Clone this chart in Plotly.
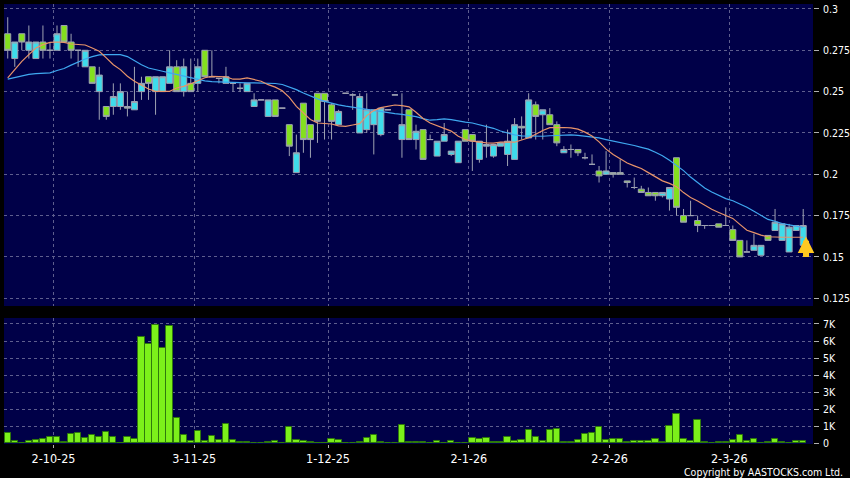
import plotly.graph_objects as go

# ---------------- data ----------------
opens = [0.285, 0.270, 0.285, 0.275, 0.270, 0.280, 0.275, 0.275, 0.290, 0.280,
         0.275, 0.265, 0.265, 0.250, 0.241, 0.241, 0.241, 0.241, 0.239, 0.250,
         0.259, 0.250, 0.250, 0.255, 0.265, 0.250, 0.255, 0.255, 0.275, 0.259,
         0.258, 0.255, 0.255, 0.252, 0.250, 0.241, 0.245, 0.235, 0.245, 0.240,
         0.230, 0.201, 0.243, 0.230, 0.249, 0.249, 0.242, 0.230, 0.249, 0.248,
         0.225, 0.227, 0.230, 0.224, 0.239, 0.248, 0.221, 0.239, 0.221, 0.227,
         0.221, 0.211, 0.220, 0.212, 0.207, 0.227, 0.224, 0.209, 0.217, 0.211,
         0.217, 0.212, 0.209, 0.229, 0.222, 0.242, 0.236, 0.236, 0.230, 0.213,
         0.215, 0.215, 0.210, 0.206, 0.202, 0.200, 0.201, 0.201, 0.196, 0.192,
         0.191, 0.189, 0.189, 0.187, 0.185, 0.210, 0.175, 0.175, 0.172, 0.169,
         0.169, 0.170, 0.169, 0.1665, 0.160, 0.153, 0.154, 0.151, 0.163, 0.166,
         0.160, 0.153, 0.166, 0.157]
highs = [0.295, 0.280, 0.285, 0.290, 0.280, 0.290, 0.280, 0.290, 0.290, 0.285,
         0.275, 0.275, 0.265, 0.265, 0.241, 0.255, 0.255, 0.250, 0.265, 0.259,
         0.259, 0.259, 0.259, 0.275, 0.269, 0.270, 0.270, 0.270, 0.275, 0.275,
         0.258, 0.265, 0.255, 0.255, 0.255, 0.249, 0.245, 0.245, 0.245, 0.240,
         0.230, 0.224, 0.243, 0.230, 0.249, 0.249, 0.243, 0.239, 0.249, 0.249,
         0.249, 0.249, 0.239, 0.240, 0.239, 0.248, 0.249, 0.239, 0.230, 0.227,
         0.224, 0.220, 0.231, 0.214, 0.220, 0.227, 0.224, 0.220, 0.230, 0.218,
         0.219, 0.227, 0.234, 0.235, 0.249, 0.244, 0.239, 0.240, 0.232, 0.217,
         0.218, 0.215, 0.213, 0.212, 0.205, 0.214, 0.201, 0.209, 0.196, 0.198,
         0.193, 0.192, 0.189, 0.189, 0.192, 0.210, 0.179, 0.184, 0.175, 0.169,
         0.169, 0.170, 0.180, 0.169, 0.160, 0.160, 0.164, 0.157, 0.163, 0.179,
         0.170, 0.170, 0.169, 0.179]
lows = [0.270, 0.265, 0.275, 0.270, 0.270, 0.270, 0.270, 0.275, 0.280, 0.270,
        0.265, 0.265, 0.255, 0.233, 0.233, 0.236, 0.239, 0.235, 0.239, 0.245,
        0.245, 0.236, 0.250, 0.255, 0.250, 0.247, 0.250, 0.250, 0.259, 0.259,
        0.255, 0.255, 0.250, 0.250, 0.250, 0.241, 0.245, 0.235, 0.235, 0.240,
        0.211, 0.201, 0.213, 0.210, 0.219, 0.221, 0.221, 0.230, 0.249, 0.239,
        0.225, 0.225, 0.212, 0.223, 0.239, 0.248, 0.210, 0.221, 0.215, 0.209,
        0.221, 0.211, 0.220, 0.211, 0.207, 0.220, 0.202, 0.207, 0.210, 0.210,
        0.217, 0.205, 0.209, 0.221, 0.222, 0.221, 0.221, 0.230, 0.217, 0.213,
        0.210, 0.211, 0.209, 0.206, 0.195, 0.200, 0.198, 0.200, 0.192, 0.191,
        0.189, 0.187, 0.184, 0.186, 0.178, 0.175, 0.171, 0.175, 0.165, 0.167,
        0.169, 0.168, 0.169, 0.160, 0.150, 0.153, 0.154, 0.151, 0.160, 0.166,
        0.160, 0.153, 0.166, 0.156]
closes = [0.275, 0.280, 0.280, 0.280, 0.280, 0.275, 0.275, 0.285, 0.280, 0.275,
          0.275, 0.275, 0.255, 0.260, 0.235, 0.247, 0.250, 0.240, 0.244, 0.255,
          0.255, 0.259, 0.259, 0.265, 0.250, 0.265, 0.250, 0.265, 0.259, 0.259,
          0.258, 0.259, 0.255, 0.252, 0.255, 0.245, 0.245, 0.245, 0.235, 0.240,
          0.217, 0.213, 0.221, 0.221, 0.232, 0.244, 0.232, 0.238, 0.249, 0.248,
          0.247, 0.239, 0.239, 0.240, 0.239, 0.248, 0.230, 0.221, 0.226, 0.209,
          0.221, 0.220, 0.224, 0.214, 0.220, 0.220, 0.220, 0.220, 0.218, 0.218,
          0.219, 0.220, 0.230, 0.228, 0.245, 0.235, 0.239, 0.230, 0.219, 0.215,
          0.215, 0.213, 0.210, 0.206, 0.199, 0.202, 0.200, 0.200, 0.195, 0.192,
          0.189, 0.187, 0.187, 0.189, 0.192, 0.180, 0.171, 0.175, 0.169, 0.169,
          0.169, 0.168, 0.169, 0.160, 0.150, 0.153, 0.157, 0.157, 0.160, 0.171,
          0.170, 0.168, 0.169, 0.169]
volume_k = [0.59, 0.14, 0.04, 0.14, 0.22, 0.25, 0.35, 0.37, 0.10, 0.53,
            0.59, 0.31, 0.47, 0.37, 0.65, 0.37, 0.04, 0.37, 0.24, 6.25,
            5.82, 6.96, 5.59, 6.88, 1.51, 0.49, 0.14, 0.71, 0.14, 0.45,
            0.20, 1.12, 0.20, 0.06, 0.06, 0.01, 0.01, 0.06, 0.14, 0.01,
            0.96, 0.20, 0.12, 0.08, 0.02, 0.02, 0.24, 0.18, 0.01, 0.01,
            0.06, 0.29, 0.47, 0.06, 0.01, 0.01, 1.06, 0.10, 0.06, 0.06,
            0.01, 0.12, 0.01, 0.12, 0.01, 0.01, 0.31, 0.27, 0.33, 0.06,
            0.06, 0.39, 0.16, 0.18, 0.78, 0.37, 0.14, 0.80, 0.82, 0.08,
            0.08, 0.18, 0.55, 0.61, 0.94, 0.22, 0.25, 0.25, 0.06, 0.14,
            0.14, 0.14, 0.25, 0.06, 1.02, 1.71, 0.27, 0.14, 1.39, 0.06,
            0.01, 0.06, 0.06, 0.20, 0.49, 0.14, 0.27, 0.04, 0.06, 0.27,
            0.06, 0.01, 0.14, 0.14]
ma_short = [0.2583, 0.2633, 0.2683, 0.2724, 0.2764, 0.2784, 0.2798, 0.2800, 0.2798, 0.2788,
            0.2784, 0.2782, 0.2764, 0.2744, 0.2704, 0.2663, 0.2633, 0.2593, 0.2563, 0.2542,
            0.2516, 0.2502, 0.2500, 0.2502, 0.2522, 0.2532, 0.2548, 0.2567, 0.2584, 0.2592,
            0.2593, 0.2590, 0.2575, 0.2575, 0.2583, 0.2575, 0.2563, 0.2542, 0.2527, 0.2505,
            0.2465, 0.2411, 0.2371, 0.2331, 0.2310, 0.2306, 0.2304, 0.2293, 0.2290, 0.2298,
            0.2306, 0.2355, 0.2385, 0.2403, 0.2411, 0.2419, 0.2415, 0.2408, 0.2375, 0.2337,
            0.2310, 0.2293, 0.2276, 0.2261, 0.2230, 0.2210, 0.2200, 0.2194, 0.2190, 0.2188,
            0.2194, 0.2194, 0.2194, 0.2207, 0.2221, 0.2242, 0.2265, 0.2282, 0.2284, 0.2283,
            0.2281, 0.2273, 0.2255, 0.2232, 0.2196, 0.2152, 0.2120, 0.2093, 0.2068, 0.2051,
            0.2035, 0.2010, 0.1985, 0.1960, 0.1945, 0.1925, 0.1889, 0.1860, 0.1838, 0.1812,
            0.1788, 0.1769, 0.1752, 0.1733, 0.1697, 0.1661, 0.1647, 0.1632, 0.1622, 0.1619,
            0.1619, 0.1619, 0.1619, 0.1619]
ma_long = [0.2575, 0.2586, 0.2595, 0.2604, 0.2609, 0.2611, 0.2613, 0.2628, 0.2640, 0.2660,
           0.2680, 0.2697, 0.2712, 0.2722, 0.2724, 0.2724, 0.2724, 0.2712, 0.2685, 0.2662,
           0.2643, 0.2635, 0.2623, 0.2613, 0.2603, 0.2593, 0.2581, 0.2573, 0.2565, 0.2560,
           0.2558, 0.2557, 0.2556, 0.2554, 0.2553, 0.2553, 0.2553, 0.2553, 0.2549, 0.2543,
           0.2528, 0.2512, 0.2492, 0.2472, 0.2456, 0.2441, 0.2429, 0.2420, 0.2412, 0.2405,
           0.2400, 0.2394, 0.2385, 0.2378, 0.2372, 0.2367, 0.2362, 0.2356, 0.2349, 0.2337,
           0.2327, 0.2330, 0.2335, 0.2331, 0.2321, 0.2315, 0.2310, 0.2300, 0.2290, 0.2278,
           0.2262, 0.2248, 0.2238, 0.2232, 0.2230, 0.2230, 0.2230, 0.2233, 0.2236, 0.2239,
           0.2238, 0.2235, 0.2231, 0.2227, 0.2220, 0.2210, 0.2202, 0.2194, 0.2184, 0.2174,
           0.2163, 0.2152, 0.2133, 0.2112, 0.2085, 0.2055, 0.2022, 0.1983, 0.1952, 0.1917,
           0.1893, 0.1872, 0.1853, 0.1840, 0.1822, 0.1800, 0.1776, 0.1749, 0.1727, 0.1716,
           0.1702, 0.1694, 0.1685, 0.1679]

date_labels = ["2-10-25", "3-11-25", "1-12-25", "2-1-26", "2-2-26", "2-3-26"]
date_label_index = [6.5, 26.5, 45.5, 65.5, 85.5, 102.5]
price_ticks = [0.3, 0.275, 0.25, 0.225, 0.2, 0.175, 0.15, 0.125]
price_tick_text = ["0.3", "0.275", "0.25", "0.225", "0.2", "0.175", "0.15", "0.125"]
vol_ticks = [0, 1000, 2000, 3000, 4000, 5000, 6000, 7000]
vol_tick_text = ["0", "1K", "2K", "3K", "4K", "5K", "6K", "7K"]

# ---------------- styling ----------------
NAVY = "#000048"
GRID = "#5E5E8E"
TXT = "#FFFFFF"
FONT = "DejaVu Sans Condensed, DejaVu Sans, sans-serif"
CYAN = "#3EDCEB"
GREEN = "#84E01E"
WICK = "#9EA2B2"

idx = list(range(len(opens)))
volume = [v * 1000 for v in volume_k]

fig = go.Figure()

fig.add_trace(go.Bar(
    x=idx, y=volume, xaxis="x", yaxis="y2", width=0.9,
    marker=dict(color="#7CF01A", line=dict(color="#2F7A0C", width=1)),
    showlegend=False, hoverinfo="skip"))

fig.add_trace(go.Candlestick(
    x=idx, open=opens, high=highs, low=lows, close=closes,
    xaxis="x2", yaxis="y", whiskerwidth=0,
    increasing=dict(fillcolor=CYAN, line=dict(color=WICK, width=1)),
    decreasing=dict(fillcolor=GREEN, line=dict(color=WICK, width=1)),
    showlegend=False))

fig.add_trace(go.Scatter(
    x=idx, y=ma_long, xaxis="x2", yaxis="y", mode="lines",
    line=dict(color="#3FA8F0", width=1.2), showlegend=False, hoverinfo="skip"))
fig.add_trace(go.Scatter(
    x=idx, y=ma_short, xaxis="x2", yaxis="y", mode="lines",
    line=dict(color="#E8946A", width=1.2), showlegend=False, hoverinfo="skip"))

xr = [-0.53, 114.39]
common_x = dict(range=xr, showgrid=True, gridcolor=GRID, griddash="3px,3px",
                gridwidth=1, zeroline=False, showline=False, automargin=False,
                tickvals=date_label_index, fixedrange=True)
common_y = dict(side="right", ticks="outside", ticklen=5, tickcolor="#B0B0B0",
                ticklabelstandoff=2, automargin=False,
                tickfont=dict(family=FONT, size=10.5, color=TXT),
                showgrid=True, gridcolor=GRID, griddash="3px,3px", gridwidth=1,
                zeroline=False, showline=False, fixedrange=True)

fig.update_layout(
    width=850, height=478,
    margin=dict(l=4, r=37, t=4, b=34, autoexpand=False),
    paper_bgcolor="#000000", plot_bgcolor=NAVY,
    font=dict(family=FONT, color=TXT, size=11),
    showlegend=False,
    boxgap=0.15, boxgroupgap=0,
    bargap=0,
    xaxis=dict(**common_x, anchor="y2", ticktext=date_labels,
               ticks="outside", ticklen=3, tickcolor="#B0B0B0",
               tickfont=dict(family=FONT, size=12.5, color=TXT),
               rangeslider=dict(visible=False)),
    xaxis2=dict(**common_x, anchor="y", matches="x", showticklabels=False,
                ticks="", rangeslider=dict(visible=False)),
    yaxis=dict(**common_y, domain=[0.3136, 1.0], range=[0.1203, 0.303],
               tickvals=price_ticks, ticktext=price_tick_text),
    yaxis2=dict(**common_y, domain=[0.0, 0.2864], range=[-40, 7350],
                tickvals=vol_ticks, ticktext=vol_tick_text),
)

fig.add_annotation(
    x=113.4, y=0.1624, xref="x2", yref="y", text="", showarrow=True,
    ax=0, ay=22, arrowhead=2, arrowwidth=6, arrowsize=0.55,
    arrowcolor="#FFC820")

fig.add_annotation(
    xref="paper", yref="paper", x=1.0396, y=-0.0625, xanchor="right",
    yanchor="middle", showarrow=False, text="Copyright by AASTOCKS.com Ltd.",
    font=dict(family=FONT, size=10.5, color=TXT))

fig.write_html(
    "out.html",
    config={"displayModeBar": False},
    post_script="document.body.style.margin='0';document.body.style.background='#000';",
)
